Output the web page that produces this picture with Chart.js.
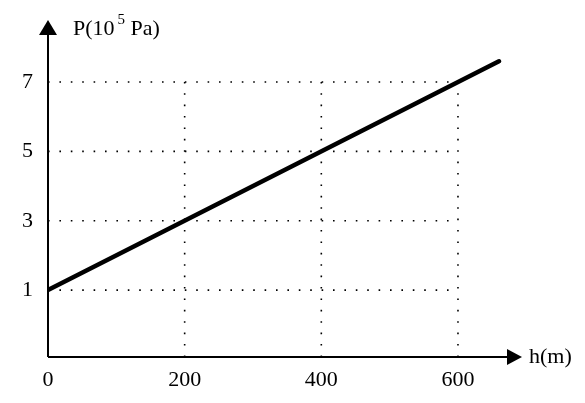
<!DOCTYPE html>
<html>
<head>
<meta charset="utf-8">
<script src="https://cdn.jsdelivr.net/npm/chart.js@4/dist/chart.umd.min.js"></script>
<style>
  html, body { margin: 0; padding: 0; background: #fff; }
  #wrap { width: 585px; height: 403px; }
</style>
</head>
<body>
<div id="wrap"><canvas id="chart"></canvas></div>
<script>
// data
const heights = [0, 660];          // h (m)
const pressures = [1, 7.6];        // P (10^5 Pa)
const xTicks = [0, 200, 400, 600];
const yTicks = [1, 3, 5, 7];

const FONT = "'Liberation Serif', 'Times New Roman', serif";

// dotted guides, arrows and axis titles
const axesPlugin = {
  id: "axesPlugin",
  beforeDatasetsDraw(chart) {
    const { ctx, chartArea, scales } = chart;
    const x = scales.x, y = scales.y;
    ctx.save();
    ctx.strokeStyle = "#000";
    ctx.lineWidth = 1.6;
    ctx.setLineDash([1.6, 9.8]);
    // horizontal dotted lines up to the last x tick
    yTicks.forEach((v) => {
      ctx.beginPath();
      ctx.moveTo(x.getPixelForValue(0), y.getPixelForValue(v));
      ctx.lineTo(x.getPixelForValue(xTicks[xTicks.length - 1]), y.getPixelForValue(v));
      ctx.stroke();
    });
    // vertical dotted lines up to the last y tick
    xTicks.slice(1).forEach((v) => {
      ctx.beginPath();
      ctx.moveTo(x.getPixelForValue(v), chartArea.bottom);
      ctx.lineTo(x.getPixelForValue(v), y.getPixelForValue(yTicks[yTicks.length - 1]));
      ctx.stroke();
    });
    ctx.setLineDash([]);

    // axes with arrow heads
    const ox = x.getPixelForValue(0);
    const oy = chartArea.bottom;
    ctx.lineWidth = 2;
    ctx.beginPath();
    ctx.moveTo(ox, oy);
    ctx.lineTo(ox, chartArea.top + 10);
    ctx.moveTo(ox, oy);
    ctx.lineTo(chartArea.right - 10, oy);
    ctx.stroke();
    ctx.fillStyle = "#000";
    ctx.beginPath();
    ctx.moveTo(ox, chartArea.top);
    ctx.lineTo(ox - 9, chartArea.top + 15);
    ctx.lineTo(ox + 9, chartArea.top + 15);
    ctx.closePath();
    ctx.fill();
    ctx.beginPath();
    ctx.moveTo(chartArea.right, oy);
    ctx.lineTo(chartArea.right - 15, oy - 8);
    ctx.lineTo(chartArea.right - 15, oy + 8);
    ctx.closePath();
    ctx.fill();

    // axis titles
    ctx.textBaseline = "alphabetic";
    ctx.textAlign = "left";
    ctx.font = "22px " + FONT;
    let tx = ox + 25;
    const ty = chartArea.top + 15;
    ctx.fillText("P(10", tx, ty);
    tx += ctx.measureText("P(10").width + 3;
    ctx.font = "15px " + FONT;
    ctx.fillText("5", tx, ty - 11);
    tx += ctx.measureText("5").width;
    ctx.font = "22px " + FONT;
    ctx.fillText(" Pa)", tx, ty);

    ctx.textBaseline = "middle";
    ctx.fillText("h(m)", chartArea.right + 7, oy);
    ctx.restore();
  }
};

new Chart(document.getElementById("chart"), {
  type: "scatter",
  data: {
    datasets: [{
      data: heights.map((h, i) => ({ x: h, y: pressures[i] })),
      showLine: true,
      borderColor: "#000",
      borderWidth: 4.5,
      pointRadius: 0,
      borderCapStyle: "round"
    }]
  },
  options: {
    responsive: true,
    maintainAspectRatio: false,
    animation: false,
    layout: { padding: { top: 20, right: 63, left: 0, bottom: 0 } },
    plugins: { legend: { display: false }, tooltip: { enabled: false } },
    scales: {
      x: {
        type: "linear",
        min: 0,
        max: 693.7,
        afterBuildTicks: (s) => { s.ticks = xTicks.map((v) => ({ value: v })); },
        afterFit: (s) => { s.height = 46; s.paddingLeft = 0; s.paddingRight = 0; },
        grid: { display: false, drawTicks: false },
        border: { display: false },
        ticks: { color: "#000", padding: 10, maxRotation: 0, font: { family: FONT, size: 22 } }
      },
      y: {
        type: "linear",
        min: -0.93,
        max: 8.79,
        afterBuildTicks: (s) => { s.ticks = yTicks.map((v) => ({ value: v })); },
        afterFit: (s) => { s.width = 48; s.paddingTop = 0; s.paddingBottom = 0; },
        grid: { display: false, drawTicks: false },
        border: { display: false },
        ticks: { color: "#000", padding: 15, font: { family: FONT, size: 22 } }
      }
    }
  },
  plugins: [axesPlugin]
});
</script>
</body>
</html>
